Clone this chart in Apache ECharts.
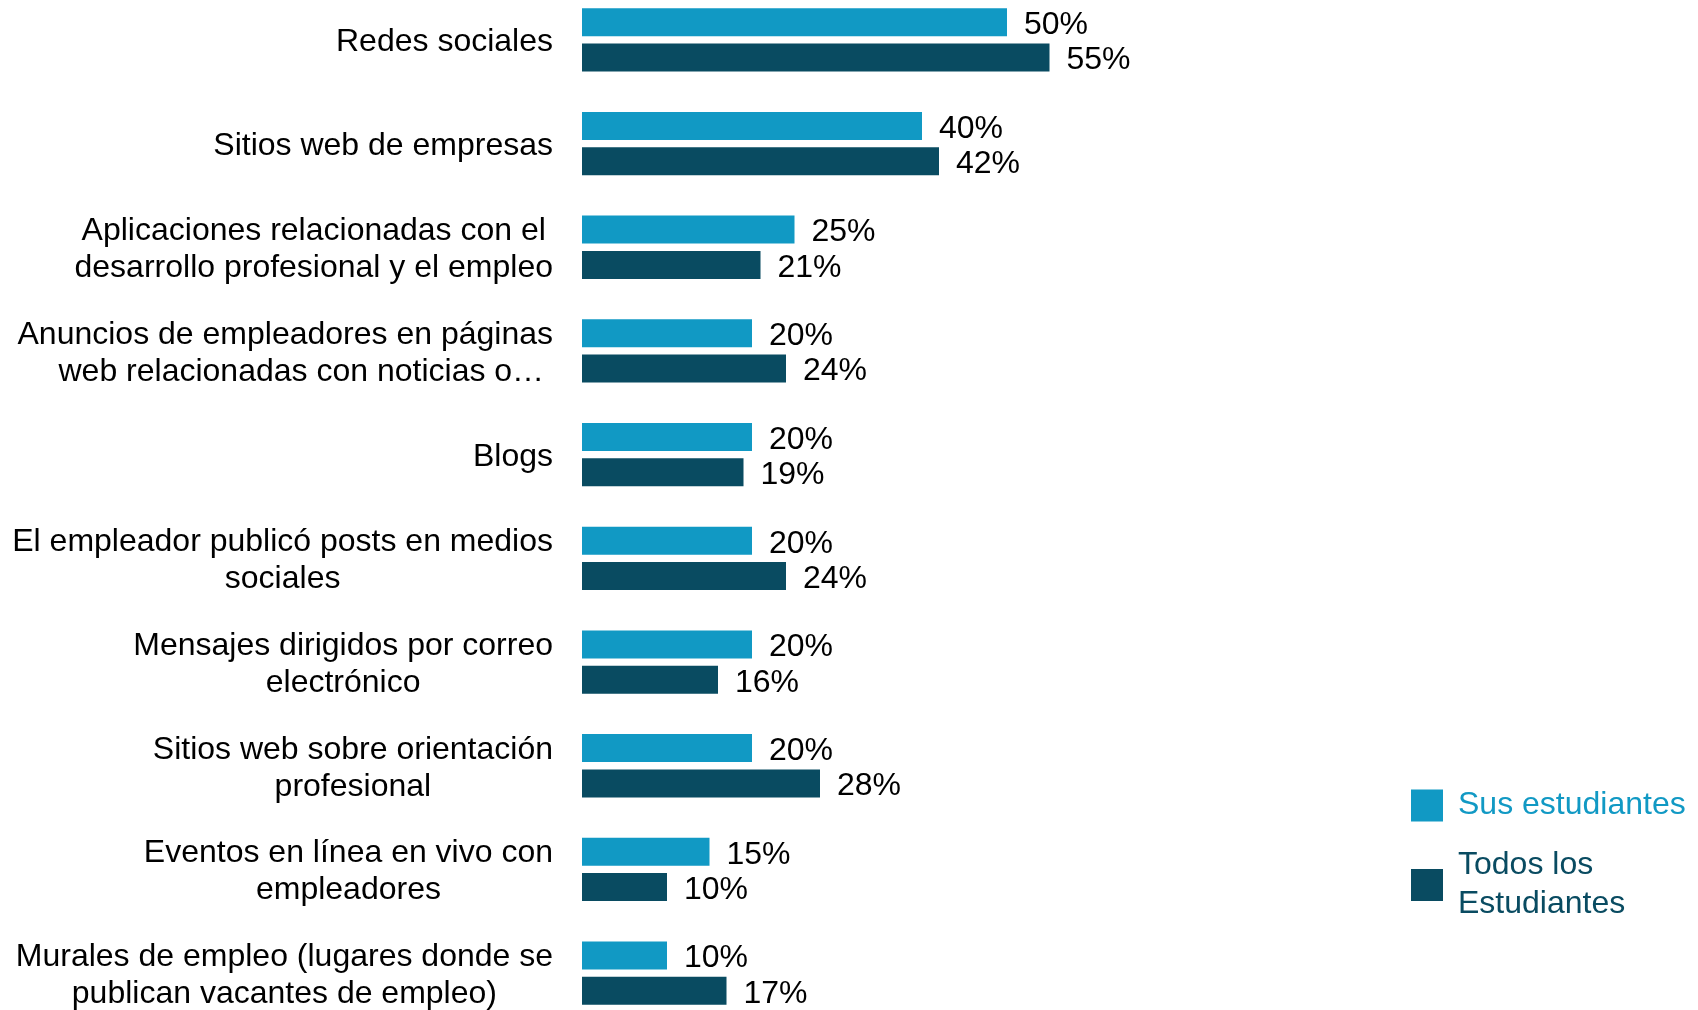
<!DOCTYPE html>
<html>
<head>
<meta charset="utf-8">
<script src="https://cdn.jsdelivr.net/npm/echarts@6/dist/echarts.min.js"></script>
<style>
  html, body { margin: 0; padding: 0; background: #fff; overflow: hidden; }
  /* el grafico empieza un poco por encima de la ventana */
  #chart { width: 1698px; height: 1037px; margin-top: -12px; }
</style>
</head>
<body>
<div id="chart"></div>
<script>
// categorias (de arriba a abajo)
var categories = [
  "Redes sociales",
  "Sitios web de empresas",
  "Aplicaciones relacionadas con el\ndesarrollo profesional y el empleo",
  "Anuncios de empleadores en páginas\nweb relacionadas con noticias o… ",
  "Blogs",
  "El empleador publicó posts en medios\nsociales",
  "Mensajes dirigidos por correo\nelectrónico",
  "Sitios web sobre orientación\nprofesional",
  "Eventos en línea en vivo con\nempleadores",
  "Murales de empleo (lugares donde se\npublican vacantes de empleo)"
];
var susEstudiantes = [50, 40, 25, 20, 20, 20, 20, 20, 15, 10];
var todosEstudiantes = [55, 42, 21, 24, 19, 24, 16, 28, 10, 17];

var light = "#1199c4";
var dark = "#094b61";
var font = "'Liberation Sans', Arial, sans-serif";

var chart = echarts.init(document.getElementById("chart"));

function valueLabel() {
  return {
    show: true,
    position: "right",
    distance: 17,
    offset: [0, 3],
    formatter: "{c}%",
    fontFamily: font,
    fontSize: 32,
    color: "#000"
  };
}

var option = {
  animation: false,
  legend: {
    orient: "vertical",
    left: 1406,
    top: 793,
    itemWidth: 32,
    itemHeight: 32,
    itemGap: 21,
    icon: "rect",
    textStyle: { fontFamily: font, fontSize: 32, lineHeight: 39, padding: [0, 0, 0, 10] },
    data: [
      { name: "Sus estudiantes", textStyle: { color: light } },
      { name: "Todos los\nEstudiantes", textStyle: { color: dark } }
    ]
  },
  grid: {
    left: 582,
    width: 850,
    top: 0,
    bottom: 0
  },
  xAxis: {
    type: "value",
    min: 0,
    max: 100,
    show: false
  },
  yAxis: {
    type: "category",
    inverse: true,
    data: categories,
    axisLine: { show: false },
    axisTick: { show: false },
    axisLabel: {
      margin: 29,
      padding: [5, 0, 0, 0],
      fontFamily: font,
      fontSize: 32,
      lineHeight: 37,
      color: "#000",
      //centrar cada linea dentro del bloque (el texto cortado va a la derecha)
      formatter: function (v) {
        var s = v.indexOf("…") >= 0 ? "r" : "c";
        return v.split("\n").map(function (l) { return "{" + s + "|" + l + "}"; }).join("\n");
      },
      rich: {
        c: { align: "center", fontFamily: font, fontSize: 32, lineHeight: 37, color: "#000" },
        r: { align: "right", fontFamily: font, fontSize: 32, lineHeight: 37, color: "#000" }
      }
    }
  },
  series: [
    {
      name: "Sus estudiantes",
      type: "bar",
      data: susEstudiantes,
      barWidth: 28,
      barGap: "26%",
      itemStyle: { color: light },
      label: valueLabel()
    },
    {
      name: "Todos los\nEstudiantes",
      type: "bar",
      data: todosEstudiantes,
      barWidth: 28,
      barGap: "26%",
      itemStyle: { color: dark },
      label: valueLabel()
    }
  ]
};

chart.setOption(option);
</script>
</body>
</html>
